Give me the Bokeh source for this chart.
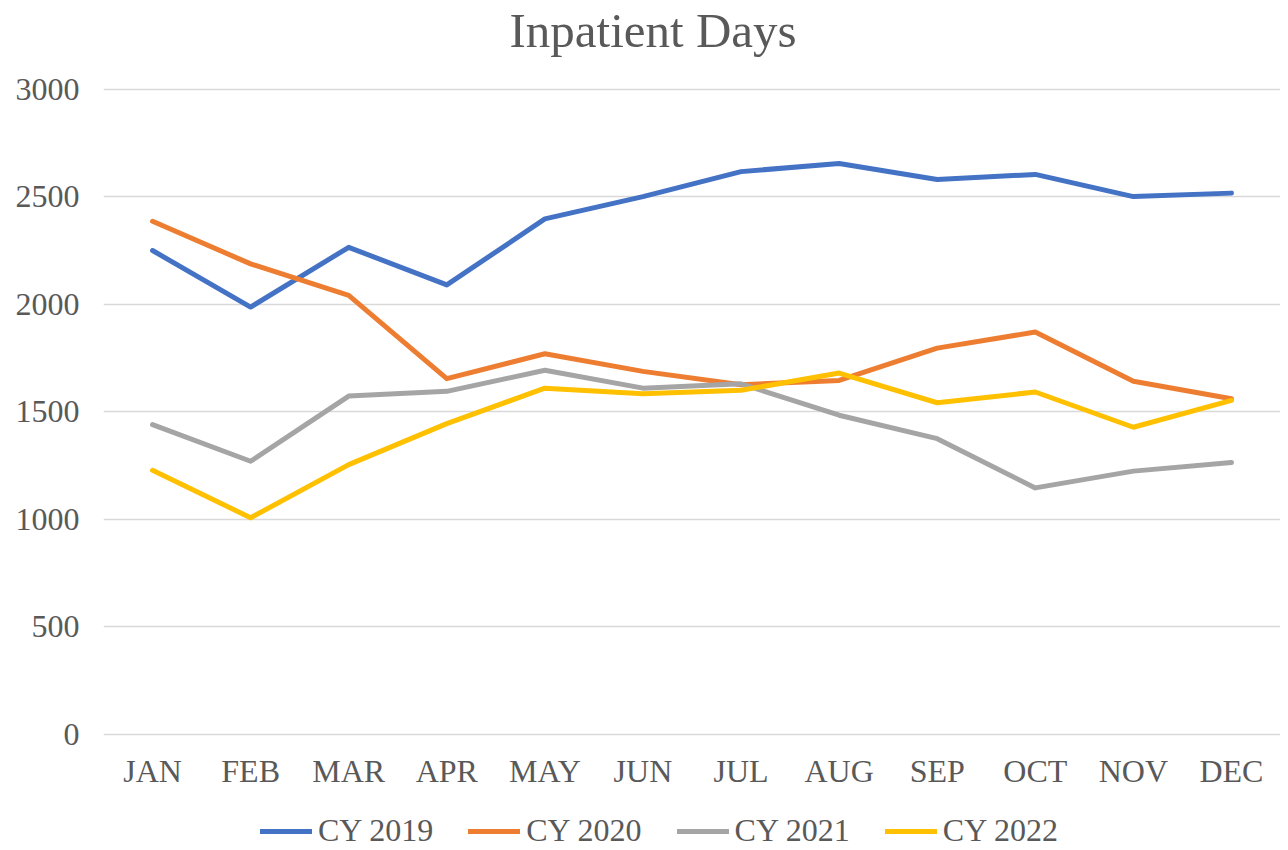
from bokeh.plotting import figure
from bokeh.layouts import column
from bokeh.models import Range1d, Legend, LegendItem, ColumnDataSource, FixedTicker
from bokeh.embed import file_html
from bokeh.resources import INLINE

months = ["JAN", "FEB", "MAR", "APR", "MAY", "JUN", "JUL", "AUG", "SEP", "OCT", "NOV", "DEC"]
cy2019 = [2251, 1988, 2266, 2091, 2398, 2502, 2618, 2656, 2581, 2605, 2502, 2518]
cy2020 = [2387, 2189, 2042, 1655, 1771, 1689, 1627, 1647, 1797, 1872, 1643, 1562]
cy2021 = [1441, 1271, 1574, 1596, 1694, 1611, 1631, 1485, 1376, 1147, 1225, 1265]
cy2022 = [1229, 1008, 1255, 1446, 1611, 1585, 1601, 1681, 1543, 1593, 1429, 1554]
series_names = ["CY 2019", "CY 2020", "CY 2021", "CY 2022"]
series_values = [cy2019, cy2020, cy2021, cy2022]
colors = ["#4472C4", "#ED7D31", "#A5A5A5", "#FFC000"]
y_ticks = [0, 500, 1000, 1500, 2000, 2500, 3000]
title_text = "Inpatient Days"

FONT = "Liberation Serif"
TXT = "#595959"

p = figure(
    x_range=months,
    y_range=Range1d(-9.3, 3148.8),
    frame_width=1177,
    frame_height=679,
    min_border_left=103,
    min_border_right=0,
    min_border_top=56,
    min_border_bottom=60,
    output_backend="svg",
    toolbar_location=None,
)
p.outline_line_color = None
p.background_fill_color = "white"
p.border_fill_color = "white"

p.title.text = title_text
p.title.text_font = FONT
p.title.text_font_size = "49px"
p.title.text_font_style = "normal"
p.title.text_color = TXT
p.title.align = "left"
p.title.offset = 406
p.title.standoff = 0

for vals, col in zip(series_values, colors):
    src = ColumnDataSource(dict(x=months, y=vals))
    p.line("x", "y", source=src, line_color=col, line_width=5,
           line_cap="round", line_join="round")

p.x_range.range_padding = 0
p.yaxis.ticker = FixedTicker(ticks=y_ticks)
p.ygrid.ticker = FixedTicker(ticks=y_ticks)
p.xgrid.grid_line_color = None
p.ygrid.grid_line_color = "#D9D9D9"
p.ygrid.grid_line_width = 1.5

for ax in (p.xaxis, p.yaxis):
    ax.axis_line_color = None
    ax.major_tick_line_color = None
    ax.minor_tick_line_color = None
    ax.major_tick_out = 0
    ax.major_tick_in = 0
    ax.major_label_text_font = FONT
    ax.major_label_text_font_size = "32px"
    ax.major_label_text_color = TXT
p.yaxis.major_label_standoff = 24
p.xaxis.major_label_standoff = 16

# legend strip: a second figure whose frame holds only the legend
p2 = figure(
    x_range=months,
    y_range=Range1d(10000, 10001),
    frame_width=1280,
    frame_height=53,
    min_border_left=0,
    min_border_right=0,
    min_border_top=0,
    min_border_bottom=0,
    x_axis_type=None,
    y_axis_type=None,
    output_backend="svg",
    toolbar_location=None,
)
p2.outline_line_color = None
p2.xgrid.grid_line_color = None
p2.ygrid.grid_line_color = None
p2.background_fill_color = "white"
p2.border_fill_color = "white"

items = []
for name, vals, col in zip(series_names, series_values, colors):
    src = ColumnDataSource(dict(x=months, y=vals))
    r = p2.line("x", "y", source=src, line_color=col, line_width=5,
                line_cap="round", line_join="round")
    items.append(LegendItem(label=name, renderers=[r]))

legend = Legend(items=items, orientation="horizontal", location=(260, 0),
                glyph_width=52, glyph_height=30, label_standoff=6, spacing=35,
                padding=0, margin=0, border_line_color=None,
                background_fill_alpha=0,
                label_text_font=FONT, label_text_font_size="32px",
                label_text_color=TXT)
p2.add_layout(legend, "center")

layout = column(p, p2, spacing=0)
open("out.html", "w").write(file_html(layout, INLINE))
